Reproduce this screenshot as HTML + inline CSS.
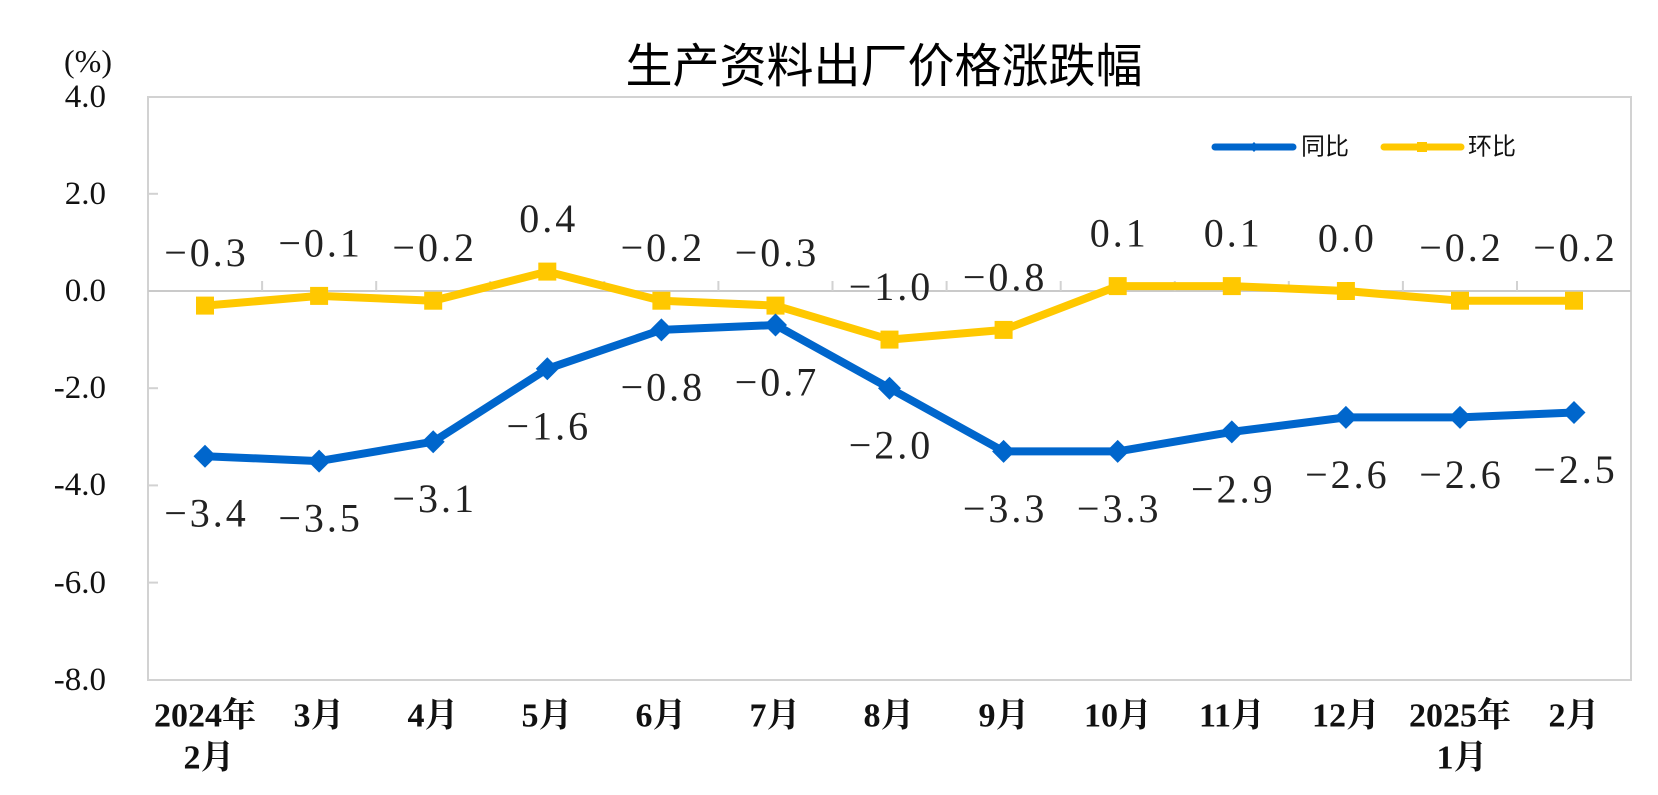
<!DOCTYPE html>
<html>
<head>
<meta charset="utf-8">
<style>
html,body{margin:0;padding:0;background:#fff;}
svg{display:block;}
.yl{font-family:"Liberation Serif","Noto Serif CJK SC",serif;font-size:33px;fill:#111;}
.xl{font-family:"Liberation Serif","Noto Serif CJK SC",serif;font-size:34px;font-weight:bold;fill:#111;}
.dl{font-family:"Liberation Serif","Noto Serif CJK SC",serif;font-size:40px;fill:#222;letter-spacing:3px;}
.lg{font-family:"Liberation Sans","Noto Sans CJK SC",sans-serif;font-size:24px;fill:#111;}
.tt{font-family:"Liberation Sans","Noto Sans CJK SC",sans-serif;font-size:47px;fill:#000;}
</style>
</head>
<body>
<svg width="1658" height="795" viewBox="0 0 1658 795" xmlns="http://www.w3.org/2000/svg">
<rect width="1658" height="795" fill="#fff"/>
<!-- title -->
<text class="tt" x="884" y="66" text-anchor="middle" dominant-baseline="central">生产资料出厂价格涨跌幅</text>
<!-- unit -->
<text class="yl" x="88" y="61" text-anchor="middle" dominant-baseline="central" style="font-size:32px">(%)</text>
<!-- plot border -->
<rect x="148" y="97" width="1483" height="583" fill="none" stroke="#d2d2d2" stroke-width="2"/>
<!-- zero line -->
<line x1="148" y1="291" x2="1631" y2="291" stroke="#cacaca" stroke-width="2"/>
<!-- left ticks -->
<g stroke="#d2d2d2" stroke-width="2">
<line x1="148" y1="193.8" x2="158" y2="193.8"/>
<line x1="148" y1="388.2" x2="158" y2="388.2"/>
<line x1="148" y1="485.4" x2="158" y2="485.4"/>
<line x1="148" y1="582.6" x2="158" y2="582.6"/>
</g>
<!-- category ticks on zero line -->
<g stroke="#d2d2d2" stroke-width="2">
<line x1="262.1" y1="281" x2="262.1" y2="291"/>
<line x1="376.2" y1="281" x2="376.2" y2="291"/>
<line x1="490.2" y1="281" x2="490.2" y2="291"/>
<line x1="604.3" y1="281" x2="604.3" y2="291"/>
<line x1="718.4" y1="281" x2="718.4" y2="291"/>
<line x1="832.5" y1="281" x2="832.5" y2="291"/>
<line x1="946.6" y1="281" x2="946.6" y2="291"/>
<line x1="1060.7" y1="281" x2="1060.7" y2="291"/>
<line x1="1174.8" y1="281" x2="1174.8" y2="291"/>
<line x1="1288.8" y1="281" x2="1288.8" y2="291"/>
<line x1="1402.9" y1="281" x2="1402.9" y2="291"/>
<line x1="1517.0" y1="281" x2="1517.0" y2="291"/>
</g>
<!-- y labels -->
<g class="yl" text-anchor="end" dominant-baseline="central">
<text x="106" y="97">4.0</text>
<text x="106" y="194">2.0</text>
<text x="106" y="291">0.0</text>
<text x="106" y="388">-2.0</text>
<text x="106" y="485">-4.0</text>
<text x="106" y="583">-6.0</text>
<text x="106" y="680">-8.0</text>
</g>
<!-- x labels -->
<g class="xl" text-anchor="middle" dominant-baseline="central">
<text x="205" y="716">2024年</text>
<text x="209" y="758">2月</text>
<text x="319" y="716">3月</text>
<text x="433" y="716">4月</text>
<text x="547" y="716">5月</text>
<text x="661" y="716">6月</text>
<text x="775" y="716">7月</text>
<text x="889" y="716">8月</text>
<text x="1004" y="716">9月</text>
<text x="1118" y="716">10月</text>
<text x="1232" y="716">11月</text>
<text x="1346" y="716">12月</text>
<text x="1460" y="716">2025年</text>
<text x="1462" y="758">1月</text>
<text x="1574" y="716">2月</text>
</g>
<!-- yellow series (环比) -->
<polyline fill="none" stroke="#FFC800" stroke-width="8" stroke-linejoin="round"
points="205,305.6 319.1,295.9 433.2,300.7 547.3,271.6 661.4,300.7 775.5,305.6 889.5,339.6 1003.6,329.9 1117.7,286.1 1231.8,286.1 1345.9,291 1460,300.7 1574,300.7"/>
<g fill="#FFC800">
<rect x="196" y="296.6" width="18" height="18"/>
<rect x="310.1" y="286.9" width="18" height="18"/>
<rect x="424.2" y="291.7" width="18" height="18"/>
<rect x="538.3" y="262.6" width="18" height="18"/>
<rect x="652.4" y="291.7" width="18" height="18"/>
<rect x="766.5" y="296.6" width="18" height="18"/>
<rect x="880.5" y="330.6" width="18" height="18"/>
<rect x="994.6" y="320.9" width="18" height="18"/>
<rect x="1108.7" y="277.1" width="18" height="18"/>
<rect x="1222.8" y="277.1" width="18" height="18"/>
<rect x="1336.9" y="282" width="18" height="18"/>
<rect x="1451" y="291.7" width="18" height="18"/>
<rect x="1565" y="291.7" width="18" height="18"/>
</g>
<!-- blue series (同比) -->
<polyline fill="none" stroke="#0066CC" stroke-width="8" stroke-linejoin="round"
points="205,456.2 319.1,461.1 433.2,441.7 547.3,368.8 661.4,329.9 775.5,325 889.5,388.2 1003.6,451.4 1117.7,451.4 1231.8,431.9 1345.9,417.4 1460,417.4 1574,412.5"/>
<g fill="#0066CC">
<polygon points="205,444.7 216.5,456.2 205,467.7 193.5,456.2"/>
<polygon points="319.1,449.6 330.6,461.1 319.1,472.6 307.6,461.1"/>
<polygon points="433.2,430.2 444.7,441.7 433.2,453.2 421.7,441.7"/>
<polygon points="547.3,357.3 558.8,368.8 547.3,380.3 535.8,368.8"/>
<polygon points="661.4,318.4 672.9,329.9 661.4,341.4 649.9,329.9"/>
<polygon points="775.5,313.5 787,325 775.5,336.5 764,325"/>
<polygon points="889.5,376.7 901,388.2 889.5,399.7 878,388.2"/>
<polygon points="1003.6,439.9 1015.1,451.4 1003.6,462.9 992.1,451.4"/>
<polygon points="1117.7,439.9 1129.2,451.4 1117.7,462.9 1106.2,451.4"/>
<polygon points="1231.8,420.4 1243.3,431.9 1231.8,443.4 1220.3,431.9"/>
<polygon points="1345.9,405.9 1357.4,417.4 1345.9,428.9 1334.4,417.4"/>
<polygon points="1460,405.9 1471.5,417.4 1460,428.9 1448.5,417.4"/>
<polygon points="1574,401 1585.5,412.5 1574,424 1562.5,412.5"/>
</g>
<!-- yellow data labels -->
<g class="dl" text-anchor="middle" dominant-baseline="central">
<text x="206.5" y="252.6">−0.3</text>
<text x="320.6" y="242.9">−0.1</text>
<text x="434.7" y="247.7">−0.2</text>
<text x="548.8" y="218.6">0.4</text>
<text x="662.9" y="247.7">−0.2</text>
<text x="777" y="252.6">−0.3</text>
<text x="891" y="286.6">−1.0</text>
<text x="1005.1" y="276.9">−0.8</text>
<text x="1119.2" y="233.1">0.1</text>
<text x="1233.3" y="233.1">0.1</text>
<text x="1347.4" y="238">0.0</text>
<text x="1461.5" y="247.7">−0.2</text>
<text x="1575.5" y="247.7">−0.2</text>
</g>
<!-- blue data labels -->
<g class="dl" text-anchor="middle" dominant-baseline="central">
<text x="206.5" y="513.2">−3.4</text>
<text x="320.6" y="518.1">−3.5</text>
<text x="434.7" y="498.7">−3.1</text>
<text x="548.8" y="425.8">−1.6</text>
<text x="662.9" y="386.9">−0.8</text>
<text x="777" y="382">−0.7</text>
<text x="891" y="445.2">−2.0</text>
<text x="1005.1" y="508.4">−3.3</text>
<text x="1119.2" y="508.4">−3.3</text>
<text x="1233.3" y="488.9">−2.9</text>
<text x="1347.4" y="474.4">−2.6</text>
<text x="1461.5" y="474.4">−2.6</text>
<text x="1575.5" y="469.5">−2.5</text>
</g>
<!-- legend -->
<line x1="1215" y1="147" x2="1293" y2="147" stroke="#0066CC" stroke-width="7" stroke-linecap="round"/>
<polygon points="1254,142 1259,147 1254,152 1249,147" fill="#0066CC"/>
<text class="lg" x="1301" y="147" dominant-baseline="central">同比</text>
<line x1="1384" y1="147" x2="1461" y2="147" stroke="#FFC800" stroke-width="7" stroke-linecap="round"/>
<rect x="1417" y="142" width="10" height="10" fill="#FFC800"/>
<text class="lg" x="1468" y="147" dominant-baseline="central">环比</text>
</svg>
</body>
</html>
